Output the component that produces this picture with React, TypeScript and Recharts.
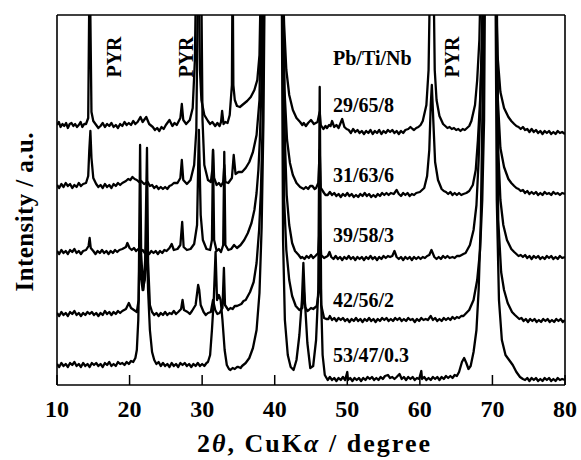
import React from 'react';
import { LineChart, Line, XAxis, YAxis } from 'recharts';

const xTicks = [10, 20, 30, 40, 50, 60, 70, 80];
const compositions = ['29/65/8', '31/63/6', '39/58/3', '42/56/2', '53/47/0.3'];
const pyrLabel = 'PYR';

// [2θ (deg), intensity (a.u., stacked)]
const pattern29_65_8: [number, number][] = [
  [10, 260], [10.25, 263], [10.5, 258], [10.75, 261], [11, 259], [11.25, 262], [11.5, 257], [11.75, 261], [12, 262],
  [12.25, 259], [12.5, 261], [12.75, 258], [13, 260], [13.25, 263], [13.5, 258], [13.75, 261], [14, 261],
  [14.3, 267], [14.5, 430], [14.75, 273], [15, 264], [15.4, 260], [15.7, 257], [16, 259], [16.3, 262], [16.6, 258],
  [16.9, 261], [17.2, 259], [17.5, 262], [17.8, 258], [18.1, 260], [18.4, 257], [18.7, 261], [19, 259], [19.3, 263],
  [19.6, 260], [19.9, 262], [20.2, 260], [20.5, 264], [20.8, 261], [21.1, 263], [21.5, 268], [21.8, 263],
  [22.3, 268], [22.7, 261], [23.2, 258], [23.5, 255], [23.8, 257], [24.1, 254], [24.4, 258], [24.7, 256], [25, 260],
  [25.5, 265], [25.9, 259], [26.2, 262], [26.5, 260], [27, 267], [27.2, 281], [27.4, 265], [27.8, 261], [28.3, 265],
  [28.7, 277], [29, 325], [29.2, 430], [29.5, 430], [29.7, 315], [29.9, 285], [30.3, 270], [30.8, 264], [31.1, 261],
  [31.4, 263], [31.8, 259], [32.1, 262], [32.4, 259], [32.6, 263], [32.75, 274], [32.95, 261], [33.2, 263],
  [33.5, 262], [33.8, 270], [34.1, 300], [34.2, 430], [34.3, 300], [34.5, 285], [34.8, 279], [35.2, 278],
  [35.7, 281], [36.2, 284], [36.7, 288], [37.2, 295], [37.6, 305], [37.9, 330], [38.15, 430], [41, 430],
  [41.3, 360], [41.6, 315], [42, 290], [42.5, 275], [43, 267], [43.5, 263], [43.8, 260], [44, 262], [44.3, 259],
  [44.6, 262], [45, 265], [45.4, 261], [45.9, 263], [46.1, 270], [46.2, 273], [46.35, 260], [46.7, 256], [47, 259],
  [47.2, 257], [47.5, 260], [47.7, 259], [47.9, 264], [48.2, 258], [48.5, 260], [48.8, 257], [49.3, 266],
  [49.6, 258], [49.9, 256], [50.2, 255], [50.5, 252], [50.8, 256], [51.1, 253], [51.4, 255], [51.7, 252], [52, 254],
  [52.3, 251], [52.6, 254], [52.9, 252], [53.2, 255], [53.5, 251], [53.8, 254], [54.1, 252], [54.4, 255],
  [54.7, 251], [55, 254], [55.3, 252], [55.6, 255], [55.9, 253], [56.2, 255], [56.5, 252], [56.8, 254], [57.1, 251],
  [57.4, 254], [57.7, 252], [58, 255], [58.4, 256], [58.7, 258], [59, 256], [59.2, 255], [59.5, 257], [59.8, 258],
  [60.1, 260], [60.4, 264], [60.9, 280], [61.2, 315], [61.45, 430], [61.85, 430], [62.05, 315], [62.3, 285],
  [62.7, 269], [63.2, 261], [63.5, 259], [63.8, 257], [64.1, 258], [64.4, 256], [64.7, 257], [65, 255], [65.3, 256],
  [65.6, 254], [65.9, 256], [66.2, 255], [66.5, 257], [66.8, 259], [67.1, 264], [67.6, 280], [67.9, 305],
  [68.2, 345], [68.45, 430], [70.4, 430], [70.7, 330], [71.1, 293], [71.6, 277], [72.2, 268], [72.6, 264],
  [73, 261], [73.3, 259], [73.6, 258], [73.9, 256], [74.2, 258], [74.5, 255], [74.8, 256], [75.1, 253], [75.4, 256],
  [75.7, 253], [76, 255], [76.3, 252], [76.6, 254], [76.9, 251], [77.2, 254], [77.5, 252], [77.8, 254], [78.1, 251],
  [78.4, 253], [78.7, 251], [79, 254], [79.3, 252], [79.6, 253], [80, 251],
];

const pattern31_63_6: [number, number][] = [
  [10, 200], [10.3, 197], [10.6, 201], [10.9, 198], [11.2, 202], [11.5, 199], [11.8, 201], [12.1, 197], [12.4, 200],
  [12.7, 198], [13, 202], [13.3, 199], [13.6, 201], [14, 202], [14.3, 209], [14.45, 235], [14.6, 254], [14.75, 227],
  [15, 207], [15.4, 201], [15.7, 198], [16, 200], [16.3, 197], [16.6, 201], [16.9, 198], [17.2, 200], [17.5, 197],
  [17.8, 201], [18.1, 199], [18.4, 202], [18.7, 200], [19, 202], [19.5, 204], [19.8, 206], [20.1, 205], [20.4, 208],
  [20.7, 206], [21, 205], [21.3, 203], [21.6, 204], [22, 201], [22.5, 203], [22.8, 199], [23.1, 200], [23.4, 197],
  [23.7, 199], [24, 196], [24.3, 198], [24.6, 196], [24.9, 198], [25.2, 196], [25.5, 199], [25.8, 200], [26.1, 202],
  [26.6, 202], [27, 207], [27.2, 225], [27.4, 205], [27.9, 201], [28.4, 205], [28.9, 220], [29.2, 255],
  [29.45, 430], [29.85, 430], [30.05, 265], [30.3, 220], [30.8, 205], [31.2, 203], [31.4, 215], [31.5, 235],
  [31.65, 207], [32, 200], [32.3, 202], [32.6, 199], [32.9, 203], [33.05, 220], [33.2, 203], [33.6, 202],
  [34.1, 207], [34.35, 230], [34.6, 211], [35, 213], [35.5, 213], [36, 217], [36.5, 223], [37, 233], [37.5, 250],
  [37.9, 285], [38.2, 430], [41, 430], [41.35, 295], [41.7, 245], [42.1, 222], [42.5, 210], [43, 202], [43.5, 198],
  [44, 196], [44.3, 198], [44.6, 196], [44.9, 199], [45.2, 199], [45.5, 196], [45.7, 197], [46, 202], [46.2, 235],
  [46.35, 197], [46.8, 192], [47, 190], [47.3, 190], [47.6, 193], [47.9, 190], [48.2, 192], [48.5, 189], [48.8, 191],
  [49.1, 188], [49.4, 191], [49.7, 189], [50, 192], [50.3, 189], [50.6, 191], [50.9, 188], [51.2, 190], [51.5, 188],
  [51.8, 191], [52.1, 189], [52.4, 192], [52.7, 189], [53, 191], [53.3, 188], [53.6, 190], [53.9, 188], [54.2, 191],
  [54.5, 189], [54.8, 192], [55.1, 190], [55.4, 192], [55.7, 190], [56, 192], [56.4, 191], [56.8, 195], [57.1, 191],
  [57.4, 189], [57.7, 192], [58, 190], [58.3, 192], [58.6, 189], [58.9, 191], [59.2, 190], [59.5, 192], [60, 193],
  [60.6, 197], [61, 209], [61.3, 235], [61.5, 280], [61.65, 300], [61.85, 265], [62.1, 223], [62.5, 205], [63, 196],
  [63.3, 194], [63.6, 193], [63.9, 191], [64.2, 193], [64.5, 190], [64.8, 192], [65.1, 190], [65.4, 192], [65.7, 190],
  [66, 191], [66.4, 192], [66.8, 194], [67.3, 200], [67.7, 215], [68, 245], [68.3, 285], [68.55, 345], [68.75, 430],
  [70.45, 430], [70.75, 285], [71.1, 237], [71.6, 218], [72.2, 206], [72.6, 202], [73, 199], [73.3, 197],
  [73.6, 196], [73.9, 194], [74.2, 195], [74.5, 192], [74.8, 194], [75.1, 191], [75.4, 193], [75.7, 191], [76, 193],
  [76.3, 190], [76.6, 192], [76.9, 190], [77.2, 193], [77.5, 191], [77.8, 192], [78.1, 190], [78.4, 193],
  [78.7, 191], [79, 192], [79.3, 190], [79.6, 192], [80, 191],
];

const pattern39_58_3: [number, number][] = [
  [10, 134], [10.3, 131], [10.6, 135], [10.9, 132], [11.2, 134], [11.5, 131], [11.8, 135], [12.1, 133], [12.4, 136],
  [12.7, 132], [13, 134], [13.3, 131], [13.6, 134], [14, 135], [14.35, 139], [14.5, 147], [14.65, 137], [15, 134],
  [15.3, 131], [15.6, 134], [15.9, 132], [16.2, 135], [16.5, 132], [16.8, 134], [17.1, 131], [17.4, 134],
  [17.7, 132], [18, 135], [18.3, 133], [18.6, 135], [19, 136], [19.5, 138], [19.7, 142], [20, 137], [20.3, 135],
  [20.6, 137], [20.9, 134], [21.2, 136], [21.5, 133], [21.8, 135], [22.1, 132], [22.4, 134], [22.7, 131], [23, 134],
  [23.3, 132], [23.6, 134], [23.9, 131], [24.2, 134], [24.5, 132], [24.8, 135], [25.1, 134], [25.5, 137],
  [25.8, 141], [26.1, 135], [26.6, 136], [27, 140], [27.25, 163], [27.45, 138], [27.9, 135], [28.4, 136],
  [28.9, 141], [29.3, 160], [29.55, 255], [29.8, 170], [30.1, 145], [30.6, 136], [31.1, 135], [31.35, 145],
  [31.5, 235], [31.65, 145], [32, 134], [32.3, 136], [32.6, 133], [32.9, 140], [33.05, 233], [33.2, 140],
  [33.6, 135], [34, 136], [34.4, 140], [34.8, 137], [35.3, 140], [35.8, 145], [36.3, 152], [36.8, 162],
  [37.2, 175], [37.5, 192], [37.75, 215], [37.95, 245], [38.2, 305], [38.35, 430], [41.1, 430], [41.4, 245],
  [41.65, 190], [42, 160], [42.4, 142], [42.8, 134], [43.3, 130], [43.6, 127], [43.8, 128], [44.1, 126],
  [44.4, 129], [44.7, 127], [45, 130], [45.3, 127], [45.6, 129], [46, 132], [46.2, 160], [46.4, 130], [46.8, 127],
  [47.3, 129], [47.55, 133], [47.8, 128], [48.1, 126], [48.4, 129], [48.7, 126], [49, 128], [49.3, 125], [49.6, 128],
  [49.9, 126], [50.2, 129], [50.5, 126], [50.8, 128], [51.1, 125], [51.4, 128], [51.7, 126], [52, 128], [52.3, 125],
  [52.6, 128], [52.9, 126], [53.2, 129], [53.5, 126], [53.8, 128], [54.1, 125], [54.4, 128], [54.7, 126], [55, 129],
  [55.3, 127], [55.6, 129], [55.9, 128], [56.2, 129], [56.5, 134], [56.8, 128], [57.1, 126], [57.4, 128],
  [57.7, 125], [58, 128], [58.3, 126], [58.6, 128], [58.9, 125], [59.2, 128], [59.5, 126], [59.8, 128], [60.1, 126],
  [60.4, 128], [60.7, 127], [61, 129], [61.3, 130], [61.6, 135], [62, 128], [62.3, 126], [62.6, 128], [62.9, 126],
  [63.2, 129], [63.5, 127], [63.8, 129], [64.1, 127], [64.5, 128], [64.8, 127], [65.1, 129], [65.5, 129],
  [66, 131], [66.3, 132], [66.9, 140], [67.4, 155], [67.8, 180], [68.1, 225], [68.35, 285], [68.6, 355],
  [68.75, 430], [70.55, 430], [70.8, 235], [71.1, 185], [71.5, 160], [72, 145], [72.6, 136], [73, 133],
  [73.3, 131], [73.6, 129], [73.9, 130], [74.2, 128], [74.5, 130], [74.8, 127], [75.1, 129], [75.4, 126],
  [75.7, 129], [76, 127], [76.3, 129], [76.6, 126], [76.9, 128], [77.2, 126], [77.5, 129], [77.8, 127], [78.1, 129],
  [78.4, 126], [78.7, 128], [79, 126], [79.3, 129], [79.6, 127], [80, 128],
];

const pattern42_56_2: [number, number][] = [
  [10, 72], [10.3, 69], [10.6, 73], [10.9, 70], [11.2, 72], [11.5, 69], [11.8, 73], [12.1, 71], [12.4, 74],
  [12.7, 70], [13, 72], [13.3, 69], [13.6, 72], [13.9, 70], [14.2, 73], [14.5, 71], [14.8, 73], [15.1, 70],
  [15.4, 72], [15.7, 69], [16, 72], [16.3, 70], [16.6, 74], [16.9, 71], [17.2, 73], [17.5, 70], [17.8, 73],
  [18.1, 71], [18.4, 74], [18.7, 72], [19, 74], [19.5, 76], [19.9, 82], [20.2, 77], [20.6, 75], [21, 73],
  [21.25, 85], [21.45, 240], [21.6, 130], [21.9, 95], [22.15, 125], [22.4, 237], [22.55, 123], [22.8, 80],
  [23.1, 73], [23.4, 70], [23.7, 72], [24, 69], [24.3, 72], [24.6, 70], [24.9, 73], [25.2, 70], [25.5, 72],
  [25.8, 71], [26.1, 74], [26.4, 71], [26.7, 73], [27.1, 76], [27.3, 85], [27.5, 75], [28, 73], [28.3, 71],
  [28.6, 74], [29.1, 80], [29.45, 100], [29.6, 95], [29.8, 80], [30.2, 73], [30.5, 70], [30.8, 72], [31.2, 73],
  [31.5, 85], [31.8, 75], [32.1, 71], [32.4, 72], [32.8, 77], [33, 117], [33.15, 80], [33.6, 75], [33.9, 77],
  [34.2, 76], [34.5, 79], [34.8, 79], [35.1, 80], [35.4, 81], [35.7, 84], [36, 85], [36.6, 93], [37.1, 103],
  [37.5, 122], [37.85, 155], [38.1, 195], [38.35, 265], [38.55, 430], [41.05, 430], [41.3, 185], [41.6, 135],
  [42, 105], [42.4, 89], [42.9, 79], [43.4, 75], [43.8, 77], [44, 95], [44.2, 78], [44.5, 74], [44.7, 75],
  [45, 77], [45.3, 76], [45.8, 79], [46.1, 95], [46.25, 145], [46.4, 80], [46.8, 67], [47.1, 66], [47.4, 66],
  [47.6, 69], [47.9, 65], [48.2, 67], [48.5, 64], [48.8, 67], [49.1, 65], [49.4, 67], [49.7, 64], [50, 66],
  [50.3, 63], [50.6, 66], [50.9, 64], [51.2, 67], [51.5, 64], [51.8, 66], [52.1, 63], [52.4, 66], [52.7, 64],
  [53, 67], [53.3, 64], [53.6, 66], [53.9, 63], [54.2, 66], [54.5, 64], [54.8, 67], [55.1, 65], [55.4, 67],
  [55.7, 64], [56, 66], [56.3, 64], [56.6, 67], [56.9, 65], [57.2, 67], [57.5, 64], [57.8, 66], [58.1, 64],
  [58.4, 67], [58.7, 65], [59, 66], [59.3, 63], [59.6, 66], [59.9, 64], [60.2, 67], [60.5, 65], [60.8, 66],
  [61.1, 65], [61.5, 69], [61.8, 65], [62.1, 67], [62.4, 64], [62.7, 66], [63, 64], [63.3, 67], [63.6, 65],
  [63.9, 67], [64.2, 65], [64.5, 68], [64.8, 66], [65.1, 68], [65.4, 67], [65.7, 69], [66, 69], [66.4, 72],
  [66.8, 75], [67.4, 85], [67.9, 105], [68.3, 135], [68.6, 185], [68.85, 265], [69, 430], [70.5, 430], [70.8, 165],
  [71.2, 113], [71.6, 95], [72.1, 82], [72.7, 73], [73.1, 70], [73.4, 68], [73.7, 66], [74, 67], [74.3, 64],
  [74.6, 66], [74.9, 63], [75.2, 66], [75.5, 64], [75.8, 66], [76.1, 63], [76.4, 65], [76.7, 63], [77, 66],
  [77.3, 64], [77.6, 66], [77.9, 63], [78.2, 65], [78.5, 63], [78.8, 66], [79.1, 64], [79.4, 66], [79.7, 63],
  [80, 65],
];

const pattern53_47_03: [number, number][] = [
  [10, 21], [10.3, 18], [10.6, 22], [10.9, 19], [11.2, 21], [11.5, 18], [11.8, 22], [12.1, 20], [12.4, 23],
  [12.7, 19], [13, 21], [13.3, 18], [13.6, 22], [13.9, 19], [14.2, 21], [14.5, 18], [14.8, 22], [15.1, 20],
  [15.4, 22], [15.7, 19], [16, 21], [16.3, 18], [16.6, 22], [16.9, 20], [17.2, 23], [17.5, 19], [17.8, 21],
  [18.1, 19], [18.4, 23], [18.7, 21], [19, 22], [19.3, 20], [19.6, 23], [19.9, 21], [20.2, 24], [20.5, 23],
  [20.8, 27], [21, 35], [21.2, 65], [21.4, 145], [21.55, 110], [21.8, 95], [22.1, 105], [22.35, 150], [22.55, 95],
  [22.8, 55], [23.1, 33], [23.4, 25], [23.7, 21], [24, 23], [24.3, 19], [24.6, 22], [24.9, 19], [25.2, 21],
  [25.5, 18], [25.8, 22], [26.1, 19], [26.4, 21], [26.7, 18], [27, 22], [27.3, 20], [27.6, 22], [27.9, 19],
  [28.2, 21], [28.5, 18], [28.8, 21], [29.1, 19], [29.4, 22], [29.7, 19], [30, 21], [30.3, 19], [30.6, 22],
  [30.8, 23], [31.1, 30], [31.35, 55], [31.6, 85], [31.85, 133], [32.05, 85], [32.3, 90], [32.55, 85], [32.8, 65],
  [33.1, 35], [33.4, 20], [33.7, 16], [33.9, 15], [34.2, 17], [34.5, 16], [34.8, 18], [35, 18], [35.3, 17],
  [35.5, 19], [36, 22], [36.5, 27], [37, 37], [37.5, 55], [37.9, 92], [38.2, 158], [38.45, 265], [38.65, 430],
  [40.95, 430], [41.15, 145], [41.4, 65], [41.8, 30], [42.2, 18], [42.6, 15], [43, 25], [43.4, 50], [43.75, 85],
  [43.95, 122], [44.15, 85], [44.5, 42], [44.9, 17], [45.3, 19], [45.7, 45], [46, 95], [46.2, 298], [46.4, 85],
  [46.6, 30], [46.9, 10], [47.3, 5], [47.6, 8], [47.9, 5], [48.2, 7], [48.5, 4], [48.8, 7], [49.1, 5], [49.4, 8],
  [49.7, 5], [50, 13], [50.1, 5], [50.4, 7], [50.7, 4], [51, 7], [51.3, 5], [51.6, 7], [51.9, 4], [52.2, 7],
  [52.5, 5], [52.8, 8], [53.1, 6], [53.4, 8], [53.7, 5], [54, 7], [54.3, 5], [54.6, 8], [54.9, 6], [55.2, 9],
  [55.6, 10], [55.9, 7], [56.2, 8], [56.5, 6], [56.8, 8], [57.2, 11], [57.5, 6], [57.8, 8], [58.1, 5], [58.4, 8],
  [58.7, 6], [59, 8], [59.3, 5], [59.6, 7], [59.9, 6], [60.2, 14], [60.3, 6], [60.6, 8], [60.9, 5], [61.2, 7],
  [61.5, 5], [61.8, 8], [62.1, 6], [62.4, 8], [62.7, 5], [63, 8], [63.3, 6], [63.6, 9], [63.9, 7], [64.2, 9],
  [64.5, 7], [64.8, 10], [65.1, 9], [65.4, 13], [65.8, 23], [66.1, 27], [66.4, 22], [66.7, 16], [67, 19],
  [67.4, 33], [67.8, 55], [68.1, 95], [68.4, 165], [68.65, 285], [68.85, 430], [70.4, 430], [70.6, 185],
  [70.9, 85], [71.3, 45], [71.8, 30], [72.3, 25], [72.8, 20], [73.3, 13], [73.8, 8], [74.2, 6], [74.5, 5],
  [74.8, 7], [75.1, 4], [75.4, 7], [75.7, 5], [76, 7], [76.3, 4], [76.6, 6], [76.9, 4], [77.2, 7], [77.5, 5],
  [77.8, 7], [78.1, 4], [78.4, 6], [78.7, 4], [79, 7], [79.3, 5], [79.6, 6], [80, 5],
];

const patterns = [pattern29_65_8, pattern31_63_6, pattern39_58_3, pattern42_56_2, pattern53_47_03];

const W = 581;
const H = 460;
const serif = '"Liberation Serif", "Times New Roman", serif';

const BottomTick = (props: any) => {
  const { x, y, payload } = props;
  return (
    <g>
      <line x1={x} x2={x} y1={y} y2={y - 10} stroke="#000" strokeWidth={1.5} />
      <text x={x} y={y + 32} textAnchor="middle" fontFamily={serif} fontWeight="bold" fontSize={24} fill="#000">
        {payload.value}
      </text>
    </g>
  );
};

const TopTick = (props: any) => {
  const { x, y } = props;
  return <line x1={x} x2={x} y1={y} y2={y + 10} stroke="#000" strokeWidth={1.5} />;
};

const axisStyle = { stroke: '#000', strokeWidth: 1.6 };

export default function App() {
  const labelY = [112, 182, 242, 307, 362];
  return (
    <div style={{ position: 'absolute', left: 0, top: 0, width: W, height: H, background: '#fff' }}>
      <LineChart width={W} height={H} margin={{ top: 14, right: 15, bottom: 74, left: 56 }}>
        <XAxis
          xAxisId="b"
          type="number"
          dataKey="x"
          domain={[10, 80]}
          ticks={xTicks}
          interval={0}
          allowDataOverflow
          height={1}
          tickSize={0}
          tickMargin={0}
          tick={<BottomTick />}
          axisLine={axisStyle}
        />
        <XAxis
          xAxisId="t"
          orientation="top"
          type="number"
          domain={[10, 80]}
          ticks={xTicks}
          interval={0}
          allowDataOverflow
          height={1}
          tickSize={0}
          tickMargin={0}
          tick={<TopTick />}
          axisLine={axisStyle}
        />
        <YAxis yAxisId="l" type="number" domain={[0, 370]} allowDataOverflow width={1} tick={false} tickLine={false} axisLine={axisStyle} />
        <YAxis yAxisId="r" orientation="right" type="number" domain={[0, 370]} allowDataOverflow width={1} tick={false} tickLine={false} axisLine={axisStyle} />
        {patterns.map((p, i) => (
          <Line
            key={compositions[i]}
            xAxisId="b"
            yAxisId="l"
            data={p.map(([x, y]) => ({ x, y }))}
            dataKey="y"
            type="linear"
            stroke="#000"
            strokeWidth={2.3}
            strokeLinejoin="round"
            dot={false}
            activeDot={false}
            isAnimationActive={false}
          />
        ))}
      </LineChart>
      <svg width={W} height={H} style={{ position: 'absolute', left: 0, top: 0, pointerEvents: 'none' }}>
        <g fontFamily={serif} fontWeight="bold" fill="#000">
          {[[121, 57], [193, 57], [459, 57]].map(([x, y], i) => (
            <text key={i} x={x} y={y} fontSize={20} textAnchor="middle" transform={`rotate(-90 ${x} ${y})`}>
              {pyrLabel}
            </text>
          ))}
          <text x={333} y={65} fontSize={20}>Pb/Ti/Nb</text>
          {compositions.map((c, i) => (
            <text key={c} x={333} y={labelY[i]} fontSize={20}>{c}</text>
          ))}
          <text x={33} y={212} fontSize={25} textAnchor="middle" textLength={159} lengthAdjust="spacing" transform="rotate(-90 33 212)">
            Intensity / a.u.
          </text>
          <text x={197} y={452} fontSize={26} textLength={233} lengthAdjust="spacing">
            2<tspan fontStyle="italic">θ</tspan>,  CuK<tspan fontStyle="italic">α</tspan> / degree
          </text>
        </g>
      </svg>
    </div>
  );
}
